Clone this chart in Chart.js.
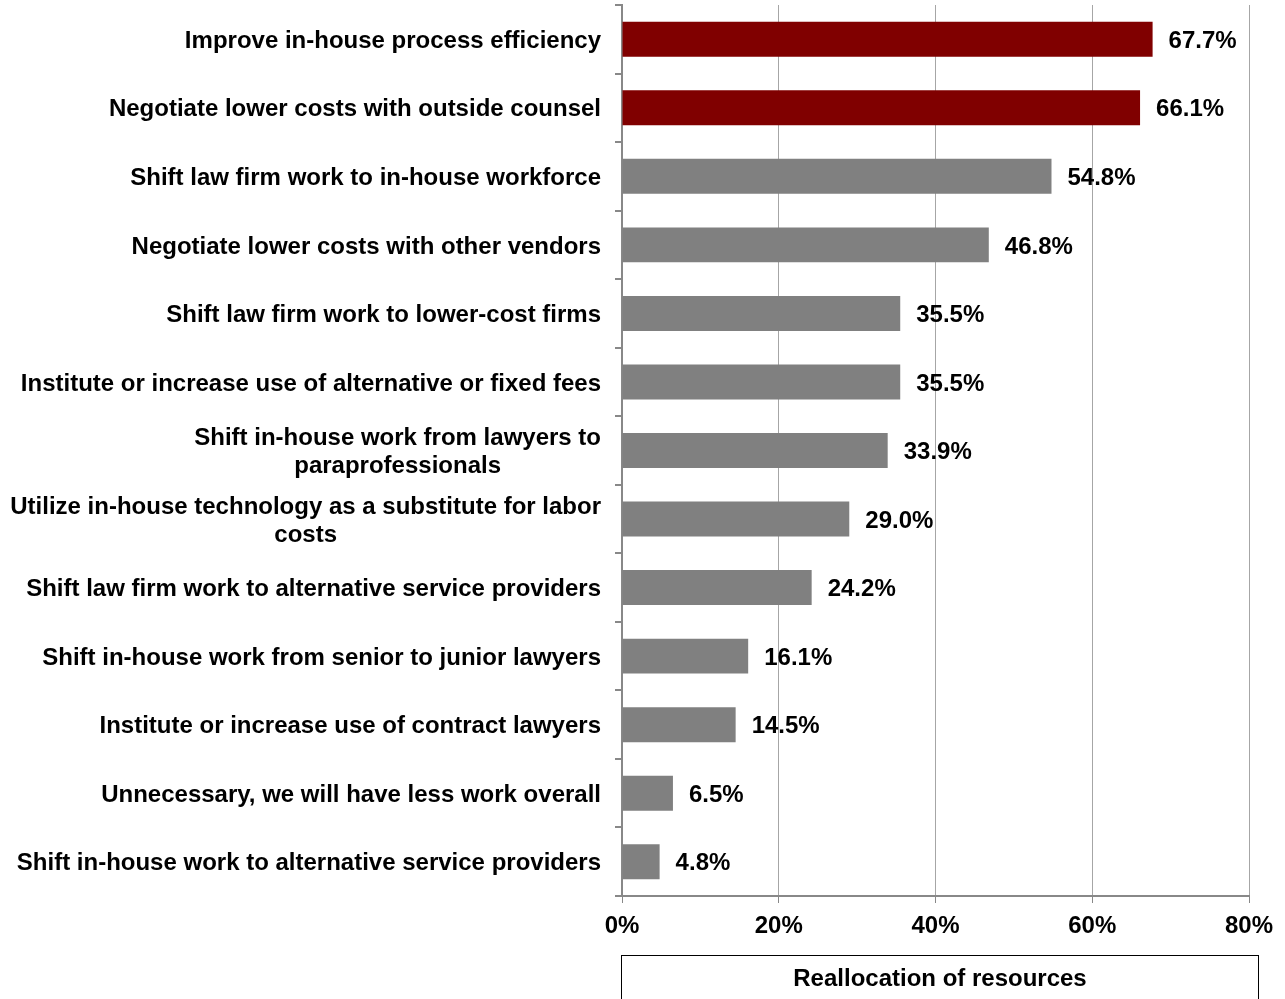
<!DOCTYPE html>
<html>
<head>
<meta charset="utf-8">
<script src="https://cdn.jsdelivr.net/npm/chart.js@4.4.1/dist/chart.umd.min.js"></script>
<style>
  html, body { margin: 0; padding: 0; background: #fff; }
  #wrap { width: 1285px; height: 999px; position: relative; }
</style>
</head>
<body>
<div id="wrap"><canvas id="myBarChart"></canvas></div>
<script>
const categories = [
  'Improve in-house process efficiency',
  'Negotiate lower costs with outside counsel',
  'Shift law firm work to in-house workforce',
  'Negotiate lower costs with other vendors',
  'Shift law firm work to lower-cost firms',
  'Institute or increase use of alternative or fixed fees',
  ['Shift in-house work from lawyers to', 'paraprofessionals'],
  ['Utilize in-house technology as a substitute for labor', 'costs'],
  'Shift law firm work to alternative service providers',
  'Shift in-house work from senior to junior lawyers',
  'Institute or increase use of contract lawyers',
  'Unnecessary, we will have less work overall',
  'Shift in-house work to alternative service providers'
];
const values = [67.7, 66.1, 54.8, 46.8, 35.5, 35.5, 33.9, 29.0, 24.2, 16.1, 14.5, 6.5, 4.8];
const highlighted = [true, true, false, false, false, false, false, false, false, false, false, false, false];
const xTicks = [0, 20, 40, 60, 80];
const seriesName = 'Reallocation of resources';

const FONT = '"Liberation Sans", Arial, sans-serif';
const FONT_SIZE = 24;

// category labels: lines centred on each other, block right-aligned to the axis
const categoryLabels = {
  id: 'categoryLabels',
  afterDraw(chart) {
    const ctx = chart.ctx;
    const yScale = chart.scales.y;
    const right = chart.chartArea.left - 21;
    ctx.save();
    ctx.font = 'bold ' + FONT_SIZE + 'px ' + FONT;
    ctx.fillStyle = '#000';
    ctx.textBaseline = 'middle';
    ctx.textAlign = 'center';
    categories.forEach((lab, i) => {
      const lines = Array.isArray(lab) ? lab : [lab];
      const w = Math.max(...lines.map(l => ctx.measureText(l).width));
      const cx = right - w / 2;
      const y = yScale.getPixelForValue(i) + 2;
      const lh = 28;
      lines.forEach((l, j) => {
        ctx.fillText(l, cx, y + (j - (lines.length - 1) / 2) * lh);
      });
    });
    ctx.restore();
  }
};

// value labels at the end of every bar
const valueLabels = {
  id: 'valueLabels',
  afterDatasetsDraw(chart) {
    const ctx = chart.ctx;
    const meta = chart.getDatasetMeta(0);
    ctx.save();
    ctx.font = 'bold ' + FONT_SIZE + 'px ' + FONT;
    ctx.fillStyle = '#000';
    ctx.textBaseline = 'middle';
    ctx.textAlign = 'left';
    meta.data.forEach((bar, i) => {
      ctx.fillText(values[i].toFixed(1) + '%', bar.x + 16, bar.y + 2);
    });
    ctx.restore();
  }
};

// boxed series name under the x axis
const seriesBox = {
  id: 'seriesBox',
  afterDraw(chart) {
    const ctx = chart.ctx;
    const left = chart.chartArea.left - 0.5;
    const right = chart.chartArea.right + 9.5;
    ctx.save();
    ctx.strokeStyle = '#000';
    ctx.lineWidth = 1;
    ctx.strokeRect(left, 955.5, right - left, 60);
    ctx.font = 'bold ' + FONT_SIZE + 'px ' + FONT;
    ctx.fillStyle = '#000';
    ctx.textAlign = 'center';
    ctx.textBaseline = 'middle';
    ctx.fillText(seriesName, (left + right) / 2, 979);
    ctx.restore();
  }
};

const ctx = document.getElementById('myBarChart').getContext('2d');
const myBarChart = new Chart(ctx, {
  type: 'bar',
  data: {
    labels: categories,
    datasets: [{
      label: seriesName,
      data: values,
      backgroundColor: highlighted.map(h => h ? '#800000' : '#808080'),
      borderWidth: 0,
      barPercentage: 0.51,
      categoryPercentage: 1
    }]
  },
  options: {
    indexAxis: 'y',
    responsive: true,
    maintainAspectRatio: false,
    animation: false,
    layout: { padding: { top: 5, right: 36, bottom: 0, left: 0 } },
    plugins: {
      legend: { display: false },
      tooltip: { enabled: false }
    },
    scales: {
      x: {
        min: 0,
        max: 80,
        afterBuildTicks: s => { s.ticks = xTicks.map(v => ({ value: v })); },
        afterFit: s => { s.height = 103; },
        grid: {
          color: '#a6a6a6',
          tickColor: '#888',
          tickLength: 7,
          lineWidth: 1
        },
        border: { color: '#888', width: 2 },
        ticks: {
          padding: 9,
          color: '#000',
          font: { family: FONT, size: FONT_SIZE, weight: 'bold' },
          callback: v => v + '%'
        }
      },
      y: {
        afterFit: s => { s.width = 622; s.paddingTop = 0; s.paddingBottom = 0; },
        grid: {
          drawOnChartArea: false,
          tickColor: '#888',
          tickLength: 7,
          lineWidth: 2
        },
        border: { color: '#888', width: 2 },
        ticks: {
          color: 'rgba(0,0,0,0)',
          font: { family: FONT, size: 1 }
        }
      }
    }
  },
  plugins: [categoryLabels, valueLabels, seriesBox]
});
</script>
</body>
</html>
